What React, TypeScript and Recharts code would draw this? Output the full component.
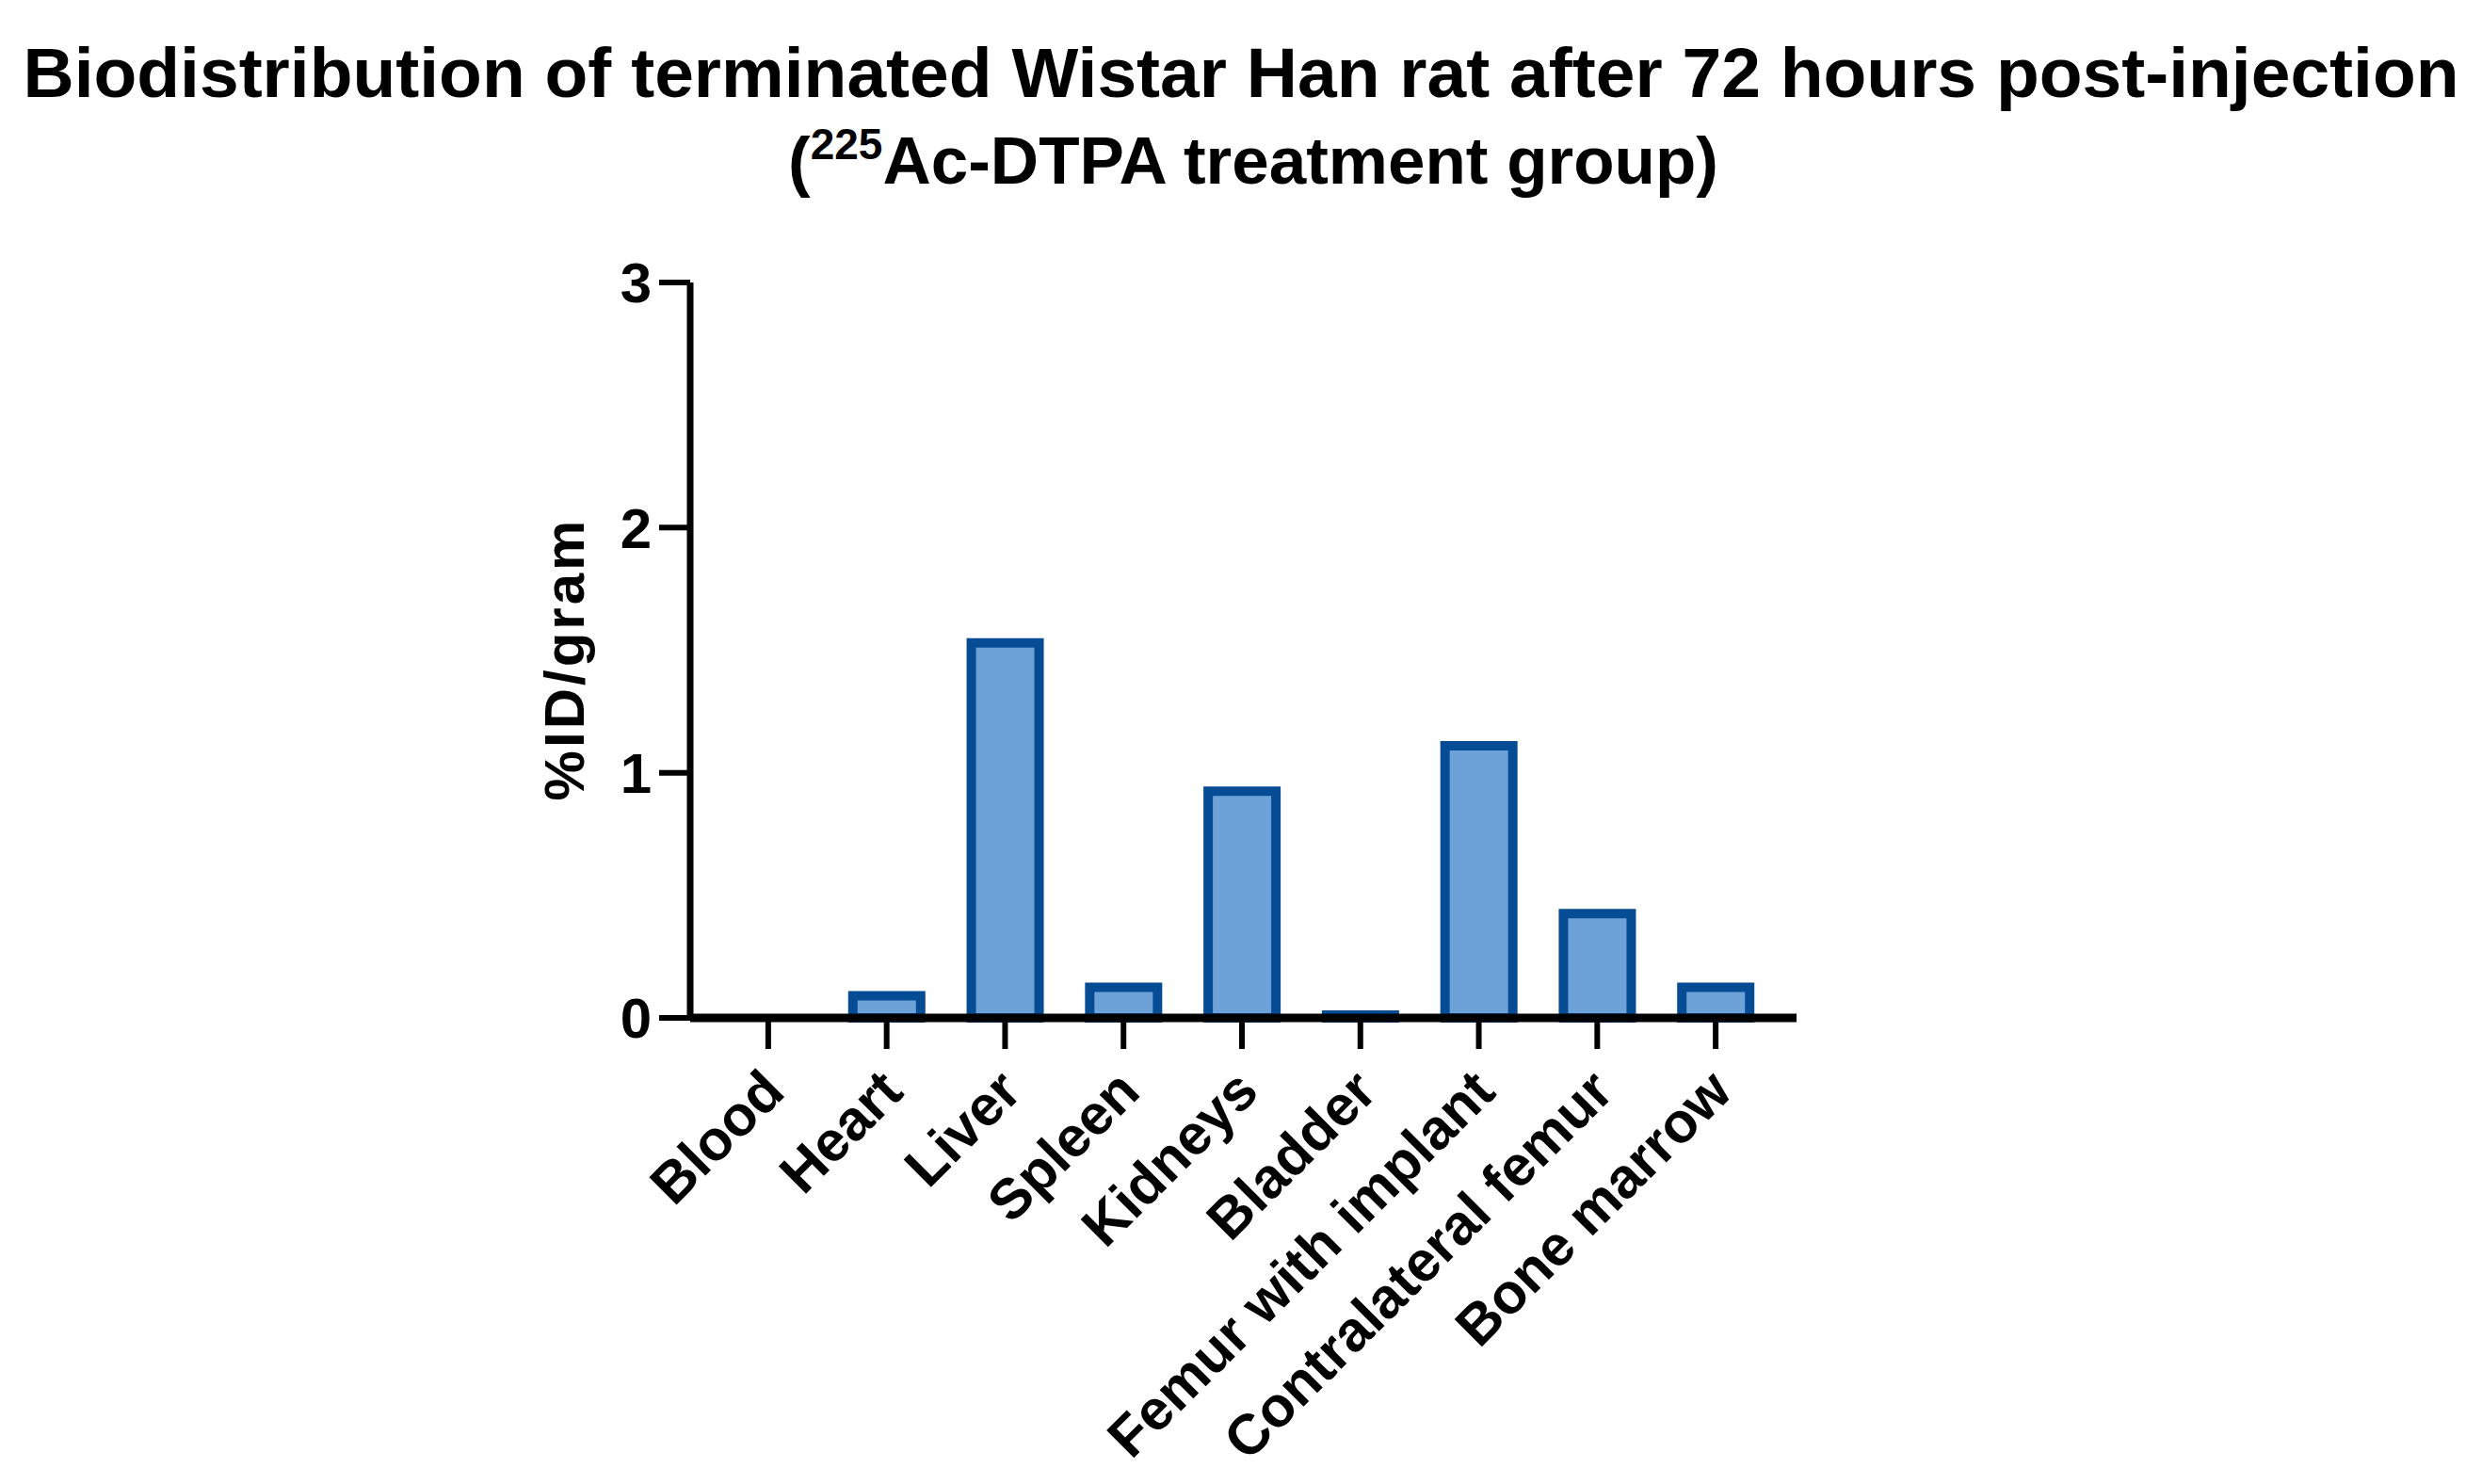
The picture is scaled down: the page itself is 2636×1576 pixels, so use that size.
import React from 'react';
import { BarChart, Bar, XAxis, YAxis } from 'recharts';

const organs = [
  'Blood',
  'Heart',
  'Liver',
  'Spleen',
  'Kidneys',
  'Bladder',
  'Femur with implant',
  'Contralateral femur',
  'Bone marrow',
];
const idPerGram = [0, 0.09, 1.53, 0.125, 0.925, 0.012, 1.11, 0.425, 0.125];
const yTicks = [0, 1, 2, 3];

const data = organs.map((name, i) => ({ name, value: idPerGram[i] }));

const FONT = '"Liberation Sans", Arial, Helvetica, sans-serif';

// rotated category labels, anchored at their end just below the tick
const OrganTick = ({ x, y, payload }: any) => (
  <text
    x={x + 20}
    y={y + 46}
    transform={`rotate(-45, ${x + 20}, ${y + 46})`}
    textAnchor="end"
    fontFamily={FONT}
    fontWeight="bold"
    fontSize={60}
    fill="#000"
  >
    {payload.value}
  </text>
);

export default function App() {
  return (
    <div style={{ position: 'absolute', left: 0, top: 0, width: 2636, height: 1576, background: '#fff' }}>
      <BarChart
        width={2636}
        height={1576}
        data={data}
        margin={{ top: 300, right: 728, bottom: 0, left: 0 }}
      >
        <XAxis
          dataKey="name"
          interval={0}
          padding={{ left: 20, right: 23 }}
          tickSize={33}
          tick={<OrganTick />}
          axisLine={{ stroke: '#000', strokeWidth: 9 }}
          tickLine={{ stroke: '#000', strokeWidth: 6 }}
          height={495}
        />
        <YAxis
          domain={[0, 3]}
          ticks={yTicks}
          interval={0}
          tickSize={33}
          tickMargin={8}
          width={733}
          axisLine={{ stroke: '#000', strokeWidth: 7 }}
          tickLine={{ stroke: '#000', strokeWidth: 6 }}
          tick={{ fill: '#000', fontSize: 60, fontWeight: 'bold', fontFamily: FONT }}
        />
        <Bar
          dataKey="value"
          barSize={72}
          fill="#6CA2D7"
          stroke="#064C94"
          strokeWidth={10}
          isAnimationActive={false}
        />
      </BarChart>
      <svg
        width={2636}
        height={1576}
        style={{ position: 'absolute', left: 0, top: 0, pointerEvents: 'none' }}
      >
        <text x={1318} y={103} textAnchor="middle" fontFamily={FONT} fontWeight="bold" fontSize={75} fill="#000">
          Biodistribution of terminated Wistar Han rat after 72 hours post-injection
        </text>
        <text x={1331} y={195} textAnchor="middle" fontFamily={FONT} fontWeight="bold" fontSize={71} fill="#000">
          (<tspan fontSize={46} dy={-26}>225</tspan>
          <tspan dy={26}>Ac-DTPA treatment group)</tspan>
        </text>
        <text
          x={620}
          y={700}
          transform="rotate(-90, 620, 700)"
          textAnchor="middle"
          fontFamily={FONT}
          fontWeight="bold"
          fontSize={60}
          letterSpacing={3}
          fill="#000"
        >
          %ID/gram
        </text>
      </svg>
    </div>
  );
}
